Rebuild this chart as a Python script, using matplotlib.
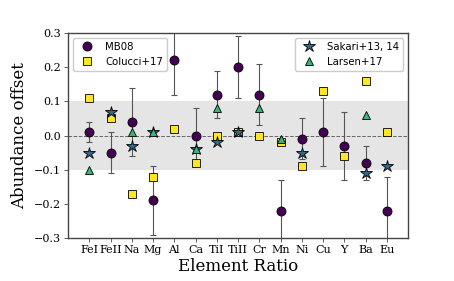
import matplotlib
matplotlib.use("Agg")
import matplotlib.pyplot as plt
import numpy as np

elements = ["FeI", "FeII", "Na", "Mg", "Al", "Ca", "TiI", "TiII", "Cr", "Mn", "Ni", "Cu", "Y", "Ba", "Eu"]

mb08_el = ["FeI", "FeII", "Na", "Mg", "Al", "Ca", "TiI", "TiII", "Cr", "Mn", "Ni", "Cu", "Y", "Ba", "Eu"]
mb08_val = [0.01, -0.05, 0.04, -0.19, 0.22, 0.00, 0.12, 0.20, 0.12, -0.22, -0.01, 0.01, -0.03, -0.08, -0.22]
mb08_err = [0.03, 0.06, 0.10, 0.10, 0.10, 0.08, 0.07, 0.09, 0.09, 0.09, 0.06, 0.10, 0.10, 0.05, 0.10]

col_el = ["FeI", "FeII", "Na", "Mg", "Al", "Ca", "TiI", "TiII", "Cr", "Mn", "Ni", "Cu", "Y", "Ba", "Eu"]
col_val = [0.11, 0.05, -0.17, -0.12, 0.02, -0.08, 0.00, 0.01, 0.00, -0.02, -0.09, 0.13, -0.06, 0.16, 0.01]

sak_el = ["FeI", "FeII", "Na", "Mg", "Ca", "TiI", "TiII", "Ni", "Ba", "Eu"]
sak_val = [-0.05, 0.07, -0.03, 0.01, -0.04, -0.02, 0.01, -0.05, -0.11, -0.09]

lar_el = ["FeI", "Na", "Mg", "Ca", "TiI", "Cr", "Mn", "Ba"]
lar_val = [-0.10, 0.01, 0.01, -0.04, 0.08, 0.08, -0.01, 0.06]

idx = {e: i for i, e in enumerate(elements)}

fig = plt.figure(figsize=(4.54, 2.81), dpi=100)
ax = fig.add_axes([68/454, 1 - 238/281, 340/454, 205/281])

ax.axhspan(-0.1, 0.1, color="#e5e5e5", zorder=0, lw=0)
ax.axhline(0, color="#666666", ls="--", lw=0.7, zorder=1)

x_mb = [idx[e] for e in mb08_el]
ax.errorbar(x_mb, mb08_val, yerr=mb08_err, fmt="none", ecolor="#555555",
            elinewidth=0.8, capsize=2, capthick=0.8, zorder=2)

p1, = ax.plot(x_mb, mb08_val, "o", color="#440154", mec="black", mew=0.6, ms=6.5, ls="none", zorder=3, label="MB08")
p2, = ax.plot([idx[e] for e in col_el], col_val, "s", color="#fde725", mec="black", mew=0.6, ms=5.5, ls="none", zorder=4, label="Colucci+17")
p3, = ax.plot([idx[e] for e in sak_el], sak_val, "*", color="#31688e", mec="black", mew=0.6, ms=9, ls="none", zorder=5, label="Sakari+13, 14")
p4, = ax.plot([idx[e] for e in lar_el], lar_val, "^", color="#35b779", mec="black", mew=0.6, ms=5.5, ls="none", zorder=6, label="Larsen+17")

ax.set_xlim(-1, 15)
ax.set_ylim(-0.3, 0.3)
ax.set_xticks(range(len(elements)))
ax.set_xticklabels(elements, family="DejaVu Serif", fontsize=8)
ax.set_yticks([-0.3, -0.2, -0.1, 0.0, 0.1, 0.2, 0.3])
ax.set_yticklabels(["\u22120.3", "\u22120.2", "\u22120.1", "0.0", "0.1", "0.2", "0.3"], family="DejaVu Serif", fontsize=8)
ax.tick_params(length=3, width=0.6, color="#444444", pad=2)
for s in ax.spines.values():
    s.set_color("#444444")
    s.set_linewidth(1.0)

ax.set_xlabel("Element Ratio", family="DejaVu Serif", fontsize=12, labelpad=2)
ax.set_ylabel("Abundance offset", family="DejaVu Serif", fontsize=12, labelpad=4)

leg1 = ax.legend(handles=[p1, p2], loc="upper left", fontsize=7.3, framealpha=1, edgecolor="#cccccc", borderaxespad=0.45)
leg1.set_zorder(2.5)
ax.add_artist(leg1)
leg2 = ax.legend(handles=[p3, p4], loc="upper right", fontsize=7.3, framealpha=1, edgecolor="#cccccc", borderaxespad=0.45)
leg2.set_zorder(2.5)

fig.savefig("out.png", dpi=100)
